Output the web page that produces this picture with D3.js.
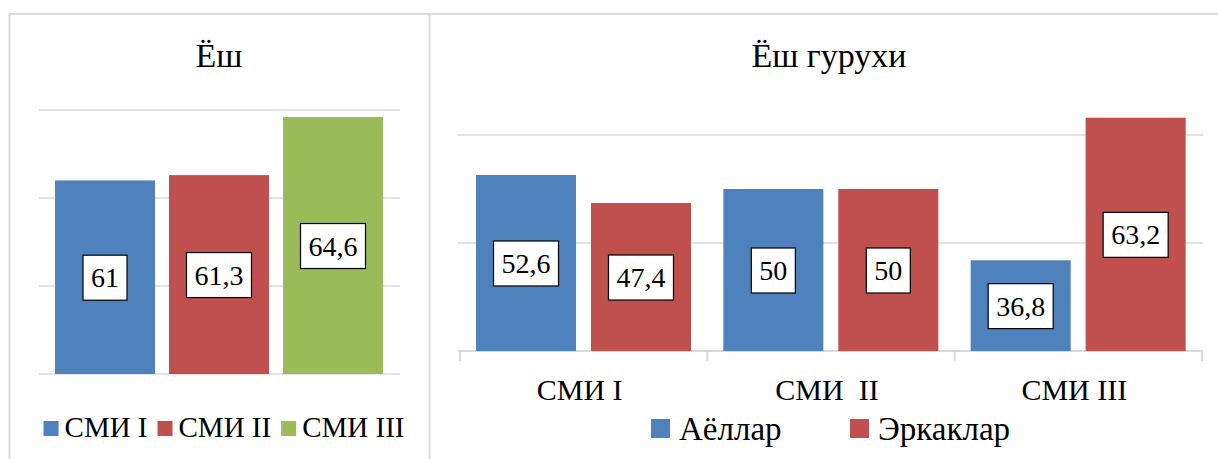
<!DOCTYPE html>
<html>
<head>
<meta charset="utf-8">
<script src="https://cdn.jsdelivr.net/npm/d3@7"></script>
<style>
  body { margin: 0; background: #fff; }
</style>
</head>
<body>
<svg id="chart" width="1218" height="459"></svg>
<script>
// Left chart: Ёш
var ageCats = ["СМИ I", "СМИ II", "СМИ III"];
var ageValues = [61, 61.3, 64.6];
var ageTicks = [50, 55, 60, 65];

// Right chart: Ёш гурухи
var groupCats = ["СМИ I", "СМИ  II", "СМИ III"];
var groupSeries = ["Аёллар", "Эркаклар"];
var womenValues = [52.6, 50, 36.8];
var menValues = [47.4, 50, 63.2];
var groupTicks = [20, 40, 60];

var colors = ["#4f81bd", "#c0504d", "#9bbb59"];
var gridColor = "#d9d9d9";
var serif = "'Liberation Serif', Tinos, 'Times New Roman', 'DejaVu Serif', serif";

var svg = d3.select("#chart");

function fmt(v) {
  return String(v).replace(".", ",");
}

// panel borders
svg.append("line").attr("x1", 9.5).attr("x2", 1218).attr("y1", 14).attr("y2", 14)
  .attr("stroke", gridColor).attr("stroke-width", 2);
svg.append("line").attr("x1", 9.5).attr("x2", 9.5).attr("y1", 13).attr("y2", 459)
  .attr("stroke", gridColor).attr("stroke-width", 2);
svg.append("line").attr("x1", 429.5).attr("x2", 429.5).attr("y1", 13).attr("y2", 459)
  .attr("stroke", gridColor).attr("stroke-width", 2);

// value label box centred in bar
function valueLabel(g, cx, cy, v) {
  var lg = g.append("g");
  var rect = lg.append("rect");
  var t = lg.append("text")
    .attr("x", cx).attr("y", cy + 10)
    .attr("text-anchor", "middle")
    .attr("font-family", serif)
    .attr("font-size", 28)
    .text(fmt(v));
  var w = t.node().getComputedTextLength() + 16;
  rect.attr("x", cx - w / 2).attr("y", cy - 22).attr("width", w).attr("height", 45)
    .attr("fill", "#fff").attr("stroke", "#000").attr("stroke-width", 1.2);
}

// ---------- left chart ----------
var yL = d3.scaleLinear().domain([50, 65]).range([374, 110]);
var xL = d3.scaleBand().domain(ageCats).range([48, 390])
  .paddingInner(14 / 114).paddingOuter(7 / 114);

var left = svg.append("g");

left.append("text")
  .attr("x", 219).attr("y", 67)
  .attr("text-anchor", "middle")
  .attr("font-family", serif)
  .attr("font-size", 34)
  .text("Ёш");

left.selectAll(".grid")
  .data(ageTicks)
  .enter()
  .append("line")
  .attr("x1", 39).attr("x2", 400)
  .attr("y1", function (d) { return yL(d); })
  .attr("y2", function (d) { return yL(d); })
  .attr("stroke", gridColor).attr("stroke-width", 1.5);

left.selectAll(".bar")
  .data(ageValues)
  .enter()
  .append("rect")
  .attr("x", function (d, i) { return xL(ageCats[i]); })
  .attr("y", function (d) { return yL(d); })
  .attr("width", xL.bandwidth())
  .attr("height", function (d) { return yL(50) - yL(d); })
  .attr("fill", function (d, i) { return colors[i]; });

ageValues.forEach(function (v, i) {
  valueLabel(left, xL(ageCats[i]) + xL.bandwidth() / 2, (yL(v) + yL(50)) / 2, v);
});

// left legend
var legL = left.append("g");
var lx = 0;
ageCats.forEach(function (c, i) {
  legL.append("rect").attr("x", lx).attr("y", 421).attr("width", 15).attr("height", 15)
    .attr("fill", colors[i]);
  var t = legL.append("text").attr("x", lx + 21).attr("y", 437)
    .attr("font-family", serif)
    .attr("font-size", 29).text(c);
  lx += 21 + t.node().getComputedTextLength() + 10;
});
var legLw = lx - 10;
legL.attr("transform", "translate(" + (224 - legLw / 2) + ",0)");

// ---------- right chart ----------
var yR = d3.scaleLinear().domain([20, 60]).range([351, 135]);
var x0 = d3.scaleBand().domain(groupCats).range([460, 1202]);
var x1 = d3.scaleBand().domain(groupSeries).range([16, 231]).paddingInner(0.13);

var right = svg.append("g");

right.append("text")
  .attr("x", 829).attr("y", 67)
  .attr("text-anchor", "middle")
  .attr("font-family", serif)
  .attr("font-size", 34)
  .text("Ёш гурухи");

right.selectAll(".grid")
  .data(groupTicks.slice(1))
  .enter()
  .append("line")
  .attr("x1", 458).attr("x2", 1203)
  .attr("y1", function (d) { return yR(d); })
  .attr("y2", function (d) { return yR(d); })
  .attr("stroke", gridColor).attr("stroke-width", 1.5);

// category axis
var axis = right.append("g")
  .attr("transform", "translate(0," + yR(20) + ")");
axis.append("line").attr("x1", 458).attr("x2", 1203).attr("y1", 0).attr("y2", 0)
  .attr("stroke", gridColor).attr("stroke-width", 2);
var tickXs = groupCats.map(function (c) { return x0(c); }).concat([x0.range()[1]]);
axis.selectAll(".sep")
  .data(tickXs)
  .enter()
  .append("line")
  .attr("x1", function (d) { return d; }).attr("x2", function (d) { return d; })
  .attr("y1", 0).attr("y2", 10)
  .attr("stroke", gridColor).attr("stroke-width", 2);

right.selectAll(".cat")
  .data(groupCats)
  .enter()
  .append("text")
  .attr("x", function (d) { return x0(d) + x0.bandwidth() / 2 - 4; })
  .attr("y", 400)
  .attr("text-anchor", "middle")
  .attr("font-family", serif)
  .attr("font-size", 30)
  .style("white-space", "pre")
  .text(function (d) { return d; });

var seriesValues = [womenValues, menValues];
groupCats.forEach(function (c, i) {
  groupSeries.forEach(function (s, j) {
    var v = seriesValues[j][i];
    var bx = x0(c) + x1(s);
    right.append("rect")
      .attr("x", bx).attr("y", yR(v))
      .attr("width", x1.bandwidth()).attr("height", yR(20) - yR(v))
      .attr("fill", colors[j]);
  });
});
groupCats.forEach(function (c, i) {
  groupSeries.forEach(function (s, j) {
    var v = seriesValues[j][i];
    valueLabel(right, x0(c) + x1(s) + x1.bandwidth() / 2, (yR(v) + yR(20)) / 2, v);
  });
});

// right legend: items start at fixed steps like the original
var legR = right.append("g").attr("transform", "translate(651,0)");
groupSeries.forEach(function (s, j) {
  var ix = j * 199;
  legR.append("rect").attr("x", ix).attr("y", 419).attr("width", 19).attr("height", 19)
    .attr("fill", colors[j]);
  legR.append("text").attr("x", ix + 28).attr("y", 440)
    .attr("font-family", serif)
    .attr("font-size", 33).text(s);
});
</script>
</body>
</html>
